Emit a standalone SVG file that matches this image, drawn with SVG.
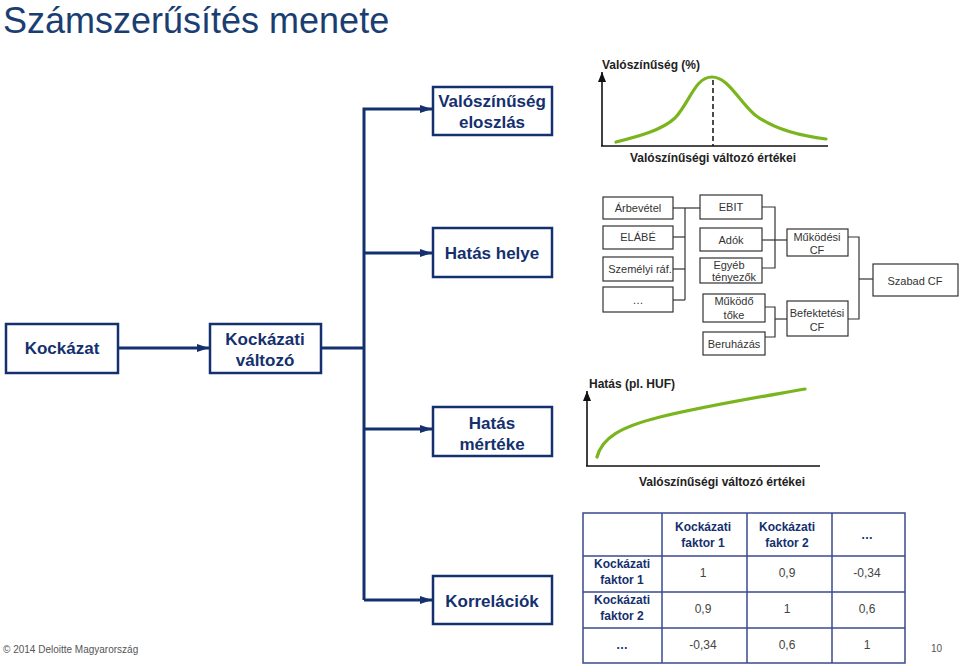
<svg xmlns="http://www.w3.org/2000/svg" width="960" height="665" viewBox="0 0 960 665">
<defs>
<style>
.nb{fill:#fff;stroke:#14306e;stroke-width:2.5}
.nt{font-family:"Liberation Sans",Arial,sans-serif;font-weight:bold;font-size:17px;fill:#14306e;text-anchor:middle}
.conn{fill:none;stroke:#14306e;stroke-width:3}
.sb{fill:#fff;stroke:#333;stroke-width:1.2}
.st{font-family:"Liberation Sans",Arial,sans-serif;font-size:11px;fill:#333;text-anchor:middle}
.sl{fill:none;stroke:#333;stroke-width:1.2}
.ax{fill:none;stroke:#111;stroke-width:1.6}
.gr{fill:none;stroke:#7ab51d;stroke-width:3.2;stroke-linecap:round}
.cl{font-family:"Liberation Sans",Arial,sans-serif;font-weight:bold;font-size:12px;fill:#222}
.tl{stroke:#3a4a90;stroke-width:1.5;fill:none}
.th{font-family:"Liberation Sans",Arial,sans-serif;font-weight:bold;font-size:12px;fill:#14306e;text-anchor:middle}
.tv{font-family:"Liberation Sans",Arial,sans-serif;font-size:12px;fill:#444;text-anchor:middle}
.ft{font-family:"Liberation Sans",Arial,sans-serif;font-size:10px;fill:#555}
</style>
<marker id="ah" viewBox="0 0 12 10" refX="12" refY="5" markerWidth="12" markerHeight="10" markerUnits="userSpaceOnUse" orient="auto">
<path d="M0,1 L12,5 L0,9 Z" fill="#14306e"/>
</marker>
<marker id="axa" viewBox="0 0 10 8" refX="10" refY="4" markerWidth="10" markerHeight="8" markerUnits="userSpaceOnUse" orient="auto">
<path d="M0,0 L10,4 L0,8 Z" fill="#111"/>
</marker>
</defs>
<rect width="960" height="665" fill="#fff"/>
<text x="3" y="33" font-family="'Liberation Sans',Arial,sans-serif" font-size="36" fill="#1a3e72">Számszerűsítés menete</text>

<g id="connectors">
<line class="conn" x1="118" y1="348" x2="209" y2="348" marker-end="url(#ah)"/>
<polyline class="conn" points="321,348 364,348"/>
<polyline class="conn" points="364,600 364,109 432,109" marker-end="url(#ah)"/>
<line class="conn" x1="364" y1="253" x2="432" y2="253" marker-end="url(#ah)"/>
<line class="conn" x1="364" y1="429" x2="432" y2="429" marker-end="url(#ah)"/>
<line class="conn" x1="364" y1="600" x2="432" y2="600" marker-end="url(#ah)"/>
</g>

<g id="kockazat"><rect class="nb" x="6" y="324" width="112" height="49"/><text class="nt" x="62" y="354">Kockázat</text></g>
<g id="kockazati-valtozo"><rect class="nb" x="210" y="324" width="111" height="49"/><text class="nt" x="265" y="345">Kockázati</text><text class="nt" x="265" y="366">változó</text></g>
<g id="valoszinuseg-eloszlas"><rect class="nb" x="433" y="87" width="119" height="48"/><text class="nt" x="492" y="107">Valószínűség</text><text class="nt" x="492" y="128">eloszlás</text></g>
<g id="hatas-helye"><rect class="nb" x="433" y="228" width="119" height="49"/><text class="nt" x="492" y="259">Hatás helye</text></g>
<g id="hatas-merteke"><rect class="nb" x="433" y="407" width="119" height="49"/><text class="nt" x="492" y="429">Hatás</text><text class="nt" x="492" y="450">mértéke</text></g>
<g id="korrelaciok"><rect class="nb" x="433" y="576" width="119" height="48"/><text class="nt" x="492" y="607">Korrelációk</text></g>

<g id="chart-distribution">
<text class="cl" x="602" y="69">Valószínűség (%)</text>
<line class="ax" x1="602" y1="146" x2="602" y2="72" marker-end="url(#axa)"/>
<line class="ax" x1="601" y1="146" x2="828" y2="146"/>
<line x1="713" y1="80" x2="713" y2="146" stroke="#111" stroke-width="1.5" stroke-dasharray="5,3"/>
<path class="gr" d="M616,142 C640,136 662,130 675,118 C690,102 695,77 712,77 C728,77 738,100 755,115 C775,130 800,136 826,139"/>
<text class="cl" x="713" y="162" text-anchor="middle">Valószínűségi változó értékei</text>
</g>

<g id="tree">
<g class="sl">
<polyline points="673,208 700,208"/>
<polyline points="685,208 685,300"/>
<polyline points="673,237 685,237"/>
<polyline points="673,269 685,269"/>
<polyline points="673,300 685,300"/>
<polyline points="762,207 775,207 775,268 762,268"/>
<polyline points="762,240 787,240"/>
<polyline points="765,307 775,307 775,337 765,337"/>
<polyline points="775,319 787,319"/>
<polyline points="848,237 859,237 859,319 848,319"/>
<polyline points="859,279 873,279"/>
</g>
<g id="arbevetel"><rect class="sb" x="603" y="197" width="70" height="22"/><text class="st" x="638" y="212">Árbevétel</text></g>
<g id="elabe"><rect class="sb" x="603" y="226" width="70" height="23"/><text class="st" x="638" y="241">ELÁBÉ</text></g>
<g id="szemelyi"><rect class="sb" x="603" y="257" width="70" height="24"/><text class="st" x="640" y="273">Személyi ráf.</text></g>
<g id="dots"><rect class="sb" x="603" y="287" width="70" height="25"/><text class="st" x="638" y="304">…</text></g>
<g id="ebit"><rect class="sb" x="700" y="195" width="62" height="24"/><text class="st" x="731" y="211">EBIT</text></g>
<g id="adok"><rect class="sb" x="700" y="228" width="62" height="23"/><text class="st" x="731" y="244">Adók</text></g>
<g id="egyeb"><rect class="sb" x="700" y="258" width="62" height="25"/><text class="st" x="729" y="269">Egyéb</text><text class="st" x="734" y="281">tényezők</text></g>
<g id="mukodo-toke"><rect class="sb" x="703" y="294" width="62" height="28"/><text class="st" x="734" y="305">Működő</text><text class="st" x="734" y="319">tőke</text></g>
<g id="beruhazas"><rect class="sb" x="703" y="332" width="62" height="23"/><text class="st" x="734" y="348">Beruházás</text></g>
<g id="mukodesi-cf"><rect class="sb" x="787" y="229" width="61" height="27"/><text class="st" x="817" y="241">Működési</text><text class="st" x="817" y="254">CF</text></g>
<g id="befektetesi-cf"><rect class="sb" x="787" y="301" width="61" height="35"/><text class="st" x="817" y="317">Befektetési</text><text class="st" x="817" y="331">CF</text></g>
<g id="szabad-cf"><rect class="sb" x="873" y="264" width="85" height="32"/><text class="st" x="915" y="285">Szabad CF</text></g>
</g>

<g id="chart-impact">
<text class="cl" x="589" y="388">Hatás (pl. HUF)</text>
<line class="ax" x1="587" y1="466" x2="587" y2="391" marker-end="url(#axa)"/>
<line class="ax" x1="586" y1="466" x2="820" y2="466"/>
<path class="gr" d="M597,457 C602,438 620,427 660,417 C710,405 760,397 805,389"/>
<text class="cl" x="722" y="486" text-anchor="middle">Valószínűségi változó értékei</text>
</g>

<g id="correlation-table">
<rect class="tl" x="583" y="513" width="322" height="150"/>
<line class="tl" x1="662" y1="513" x2="662" y2="663"/>
<line class="tl" x1="747" y1="513" x2="747" y2="663"/>
<line class="tl" x1="832" y1="513" x2="832" y2="663"/>
<line class="tl" x1="583" y1="556" x2="905" y2="556"/>
<line class="tl" x1="583" y1="592" x2="905" y2="592"/>
<line class="tl" x1="583" y1="628" x2="905" y2="628"/>
<text class="th" x="703" y="531">Kockázati</text><text class="th" x="703" y="547">faktor 1</text>
<text class="th" x="787" y="531">Kockázati</text><text class="th" x="787" y="547">faktor 2</text>
<text class="th" x="867" y="539">…</text>
<text class="th" x="622" y="568">Kockázati</text><text class="th" x="622" y="584">faktor 1</text>
<text class="th" x="622" y="604">Kockázati</text><text class="th" x="622" y="620">faktor 2</text>
<text class="th" x="622" y="649">…</text>
<text class="tv" x="703" y="577">1</text><text class="tv" x="787" y="577">0,9</text><text class="tv" x="867" y="577">-0,34</text>
<text class="tv" x="703" y="613">0,9</text><text class="tv" x="787" y="613">1</text><text class="tv" x="867" y="613">0,6</text>
<text class="tv" x="703" y="649">-0,34</text><text class="tv" x="787" y="649">0,6</text><text class="tv" x="867" y="649">1</text>
</g>

<text class="ft" x="3" y="653">© 2014 Deloitte Magyarország</text>
<text class="ft" x="931" y="652">10</text>
</svg>
